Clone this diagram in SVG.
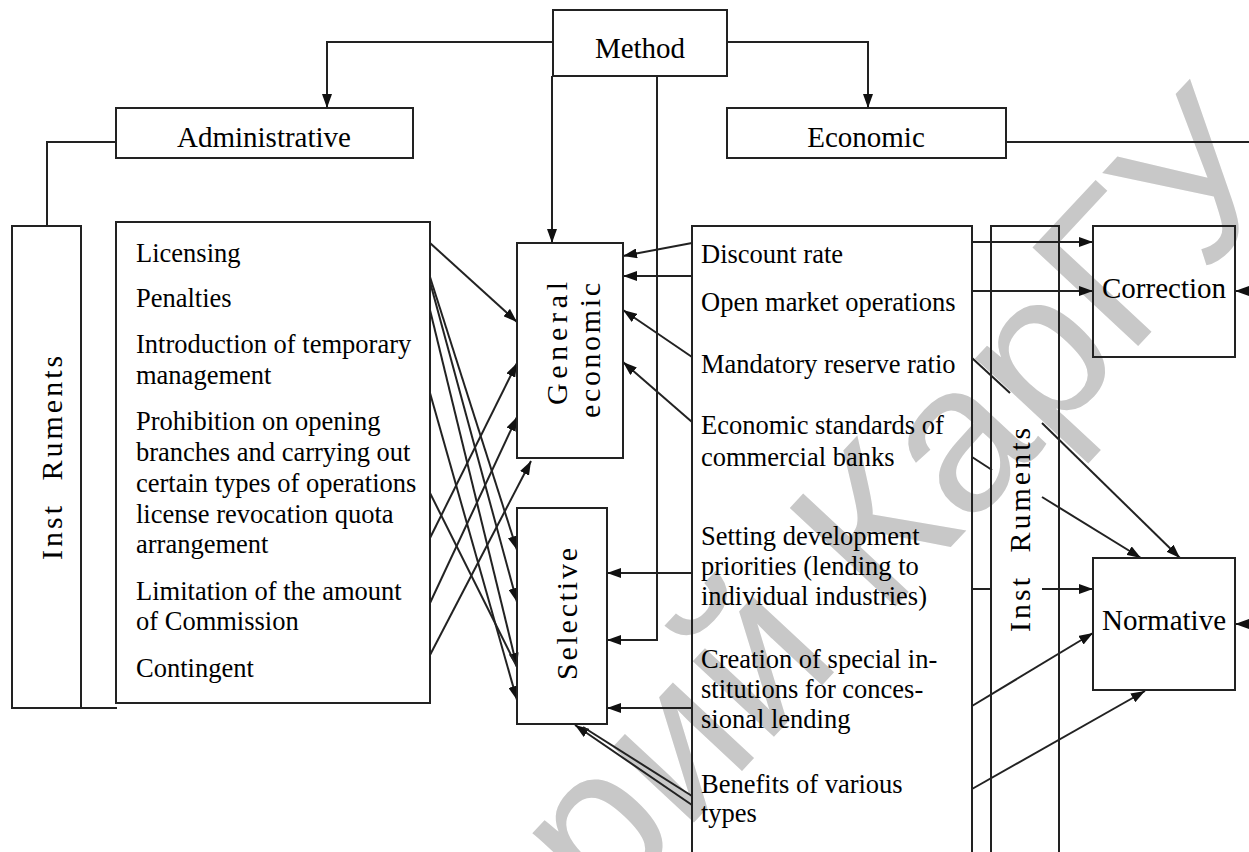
<svg xmlns="http://www.w3.org/2000/svg" width="1249" height="852" viewBox="0 0 1249 852">
<style>
.box{fill:none;stroke:#222;stroke-width:2}
.ln{fill:none;stroke:#222;stroke-width:2}
.ar{marker-end:url(#ah)}
.t{font-family:"Liberation Serif","Times New Roman",serif;font-size:26.5px;fill:#000}
.h{font-family:"Liberation Serif","Times New Roman",serif;font-size:29px;fill:#000;text-anchor:middle}
.v{font-family:"Liberation Serif","Times New Roman",serif;font-size:30px;fill:#000}
.wm{font-family:"Liberation Sans",Arial,sans-serif;font-size:210px;fill:#c8c8c8;text-anchor:end}
</style>
<defs>
<marker id="ah" viewBox="0 0 14 10" refX="14" refY="5" markerWidth="14" markerHeight="10" orient="auto" markerUnits="userSpaceOnUse">
<path d="M0,0 L14,5 L0,10 z" fill="#111"/>
</marker>
</defs>
<rect width="1249" height="852" fill="#fff"/>
<text class="wm" transform="translate(1295,178) rotate(-47)">Репозиторий КарГУ</text>

<g id="connectors">
<path class="ln ar" d="M553,42 H327 V108"/>
<path class="ln ar" d="M727,42 H868 V108"/>
<path class="ln ar" d="M552,76 V243"/>
<path class="ln ar" d="M657,76 V640 H607"/>
<path class="ln" d="M116,142 H47 V226"/>
<path class="ln" d="M1006,142 H1249"/>
<path class="ln ar" d="M1249,291 H1235"/>
<path class="ln ar" d="M1249,624 H1235"/>
<path class="ln ar" d="M430,243 L517,322"/>
<path class="ln ar" d="M430,277 L517,550"/>
<path class="ln ar" d="M430,282 L517,602"/>
<path class="ln ar" d="M430,310 L517,667"/>
<path class="ln ar" d="M430,393 L517,700"/>
<path class="ln" d="M430,493 L517,667"/>
<path class="ln ar" d="M430,538 L517,363"/>
<path class="ln ar" d="M430,603 L517,417"/>
<path class="ln ar" d="M430,655 L531,461"/>
<path class="ln ar" d="M692,243 L623,256"/>
<path class="ln ar" d="M692,276 H623"/>
<path class="ln ar" d="M692,357 L623,310"/>
<path class="ln ar" d="M692,422 L623,362"/>
<path class="ln ar" d="M692,573 H607"/>
<path class="ln ar" d="M692,708 H607"/>
<path class="ln ar" d="M692,805 L575,725"/>
<path class="ln" d="M692,796 L583,727"/>
<path class="ln ar" d="M972,242 H1093"/>
<path class="ln ar" d="M972,291 H1093"/>
<path class="ln" d="M972,358 L1010,393"/>
<path class="ln ar" d="M1042,423 L1180,558"/>
<path class="ln" d="M972,457 L992,470"/>
<path class="ln ar" d="M1042,497 L1141,558"/>
<path class="ln" d="M972,589 H992"/>
<path class="ln ar" d="M1042,589 H1093"/>
<path class="ln ar" d="M972,706 L1093,633"/>
<path class="ln ar" d="M972,789 L1145,691"/>
</g>

<g id="method">
<rect class="box" x="553" y="10" width="174" height="66"/>
<text class="h" x="640" y="58">Method</text>
</g>
<g id="administrative">
<rect class="box" x="116" y="108" width="297" height="50"/>
<text class="h" x="264" y="147">Administrative</text>
</g>
<g id="economic">
<rect class="box" x="727" y="108" width="279" height="50"/>
<text class="h" x="866" y="147">Economic</text>
</g>
<g id="instruments-admin">
<rect class="box" x="12" y="226" width="69" height="482"/>
<path class="ln" d="M81,708 H117"/>
<text class="v" transform="translate(62,560) rotate(-90)" letter-spacing="3" word-spacing="12">Inst Ruments</text>
</g>
<g id="admin-list">
<rect class="box" x="116" y="222" width="314" height="481"/>
<text class="t" x="136" y="262">Licensing</text>
<text class="t" x="136" y="307">Penalties</text>
<text class="t" x="136" y="353">Introduction of temporary</text>
<text class="t" x="136" y="384">management</text>
<text class="t" x="136" y="430">Prohibition on opening</text>
<text class="t" x="136" y="461">branches and carrying out</text>
<text class="t" x="136" y="492">certain types of operations</text>
<text class="t" x="136" y="523">license revocation quota</text>
<text class="t" x="136" y="553">arrangement</text>
<text class="t" x="136" y="600">Limitation of the amount</text>
<text class="t" x="136" y="630">of Commission</text>
<text class="t" x="136" y="677">Contingent</text>
</g>
<g id="general-economic">
<rect class="box" x="517" y="243" width="106" height="215"/>
<text class="v" transform="translate(567,405) rotate(-90)" textLength="123">General</text>
<text class="v" transform="translate(600,418) rotate(-90)" textLength="135">economic</text>
</g>
<g id="selective">
<rect class="box" x="517" y="508" width="90" height="216"/>
<text class="v" transform="translate(577,680) rotate(-90)" textLength="132">Selective</text>
</g>
<g id="economic-list">
<path class="box" d="M692,852 V226 H972 V852"/>
<text class="t" x="701" y="263">Discount rate</text>
<text class="t" x="701" y="311">Open market operations</text>
<text class="t" x="701" y="373">Mandatory reserve ratio</text>
<text class="t" x="701" y="434">Economic standards of</text>
<text class="t" x="701" y="466">commercial banks</text>
<text class="t" x="701" y="545">Setting development</text>
<text class="t" x="701" y="575">priorities (lending to</text>
<text class="t" x="701" y="605">individual industries)</text>
<text class="t" x="701" y="668">Creation of special in-</text>
<text class="t" x="701" y="698">stitutions for conces-</text>
<text class="t" x="701" y="728">sional lending</text>
<text class="t" x="701" y="793">Benefits of various</text>
<text class="t" x="701" y="822">types</text>
</g>
<g id="instruments-econ">
<path class="box" d="M991,852 V226 H1059 V852"/>
<text class="v" transform="translate(1030,632) rotate(-90)" letter-spacing="3" word-spacing="12">Inst Ruments</text>
</g>
<g id="correction">
<rect class="box" x="1093" y="226" width="142" height="131"/>
<text class="h" x="1164" y="298">Correction</text>
</g>
<g id="normative">
<rect class="box" x="1093" y="558" width="142" height="132"/>
<text class="h" x="1164" y="630">Normative</text>
</g>
</svg>
